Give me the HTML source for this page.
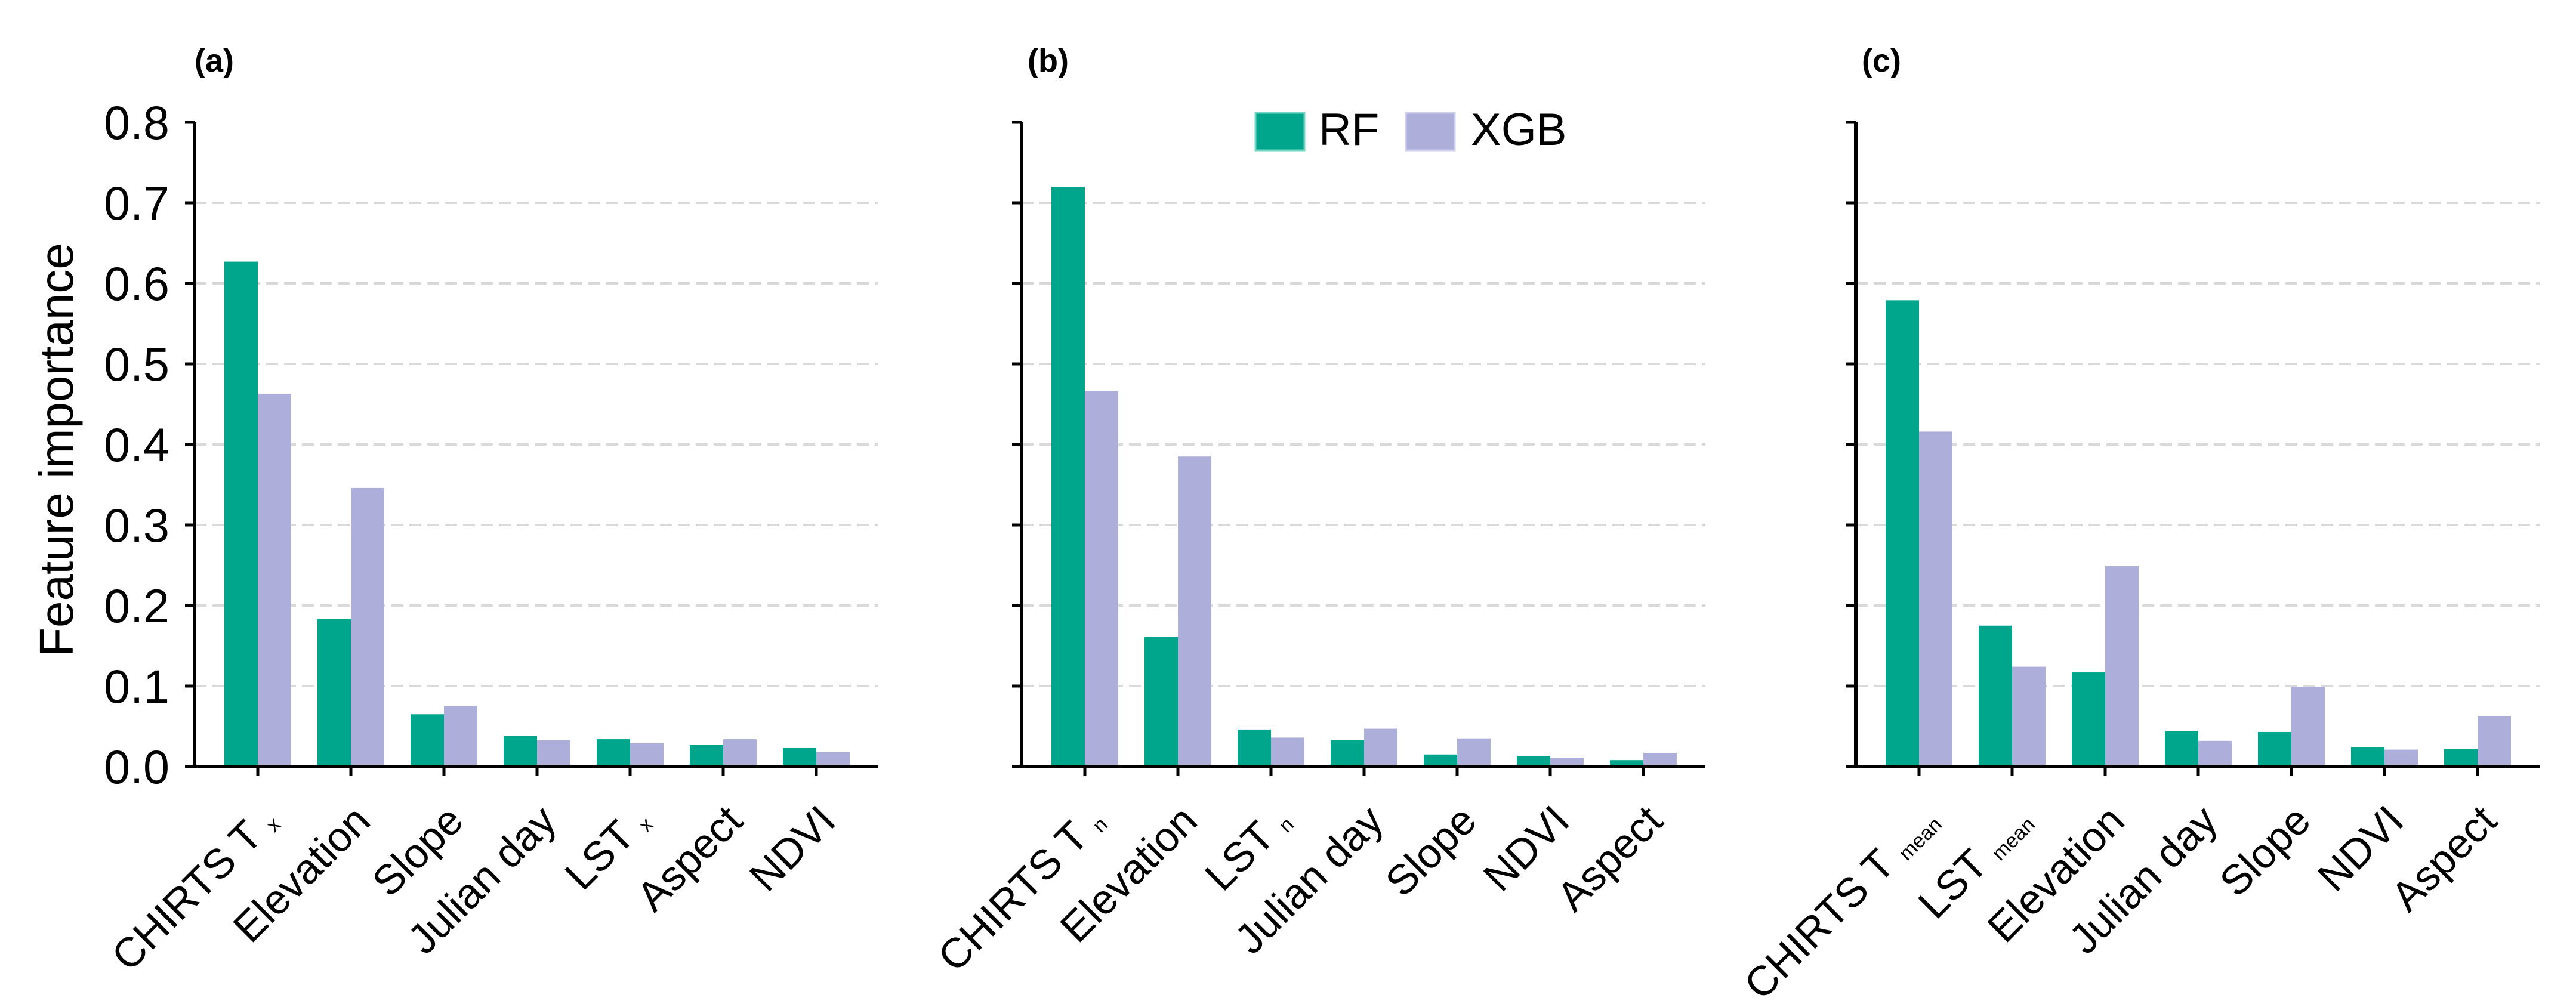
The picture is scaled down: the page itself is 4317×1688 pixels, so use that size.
<!DOCTYPE html>
<html><head><meta charset="utf-8"><style>
html,body{margin:0;padding:0;background:#fff;}
svg{display:block;font-family:"Liberation Sans",Arial,sans-serif;}
</style></head><body>
<svg id="chart" width="4317" height="1688" viewBox="0 0 4317 1688" xmlns="http://www.w3.org/2000/svg">
<text x="0" y="0" transform="translate(122,754) rotate(-90)" text-anchor="middle" font-size="80">Feature importance</text>
<g>
<rect x="2104" y="189" width="82" height="63" fill="#00a68c" stroke="#6fd6c4" stroke-width="3"/>
<text x="2210" y="243" font-size="76">RF</text>
<rect x="2356" y="189" width="82" height="63" fill="#adaed9" stroke="#d0d0ee" stroke-width="3"/>
<text x="2465" y="243" font-size="76">XGB</text>
</g>
</svg>
<script>
const panelLabels = ["(a)", "(b)", "(c)"];
const catsA = [["CHIRTS T","x"],["Elevation",""],["Slope",""],["Julian day",""],["LST","x"],["Aspect",""],["NDVI",""]];
const rfA = [0.627, 0.183, 0.065, 0.038, 0.034, 0.027, 0.023];
const xgbA = [0.463, 0.346, 0.075, 0.033, 0.029, 0.034, 0.018];
const catsB = [["CHIRTS T","n"],["Elevation",""],["LST","n"],["Julian day",""],["Slope",""],["NDVI",""],["Aspect",""]];
const rfB = [0.720, 0.161, 0.046, 0.033, 0.015, 0.013, 0.008];
const xgbB = [0.466, 0.385, 0.036, 0.047, 0.035, 0.011, 0.017];
const catsC = [["CHIRTS T","mean"],["LST","mean"],["Elevation",""],["Julian day",""],["Slope",""],["NDVI",""],["Aspect",""]];
const rfC = [0.579, 0.175, 0.117, 0.044, 0.043, 0.024, 0.022];
const xgbC = [0.416, 0.124, 0.249, 0.032, 0.099, 0.021, 0.063];
const yTicks = [0, 0.1, 0.2, 0.3, 0.4, 0.5, 0.6, 0.7, 0.8];
const yTickLabels = ["0.0","0.1","0.2","0.3","0.4","0.5","0.6","0.7","0.8"];

const NS = "http://www.w3.org/2000/svg";
const svg = document.getElementById("chart");
function mk(tag, attrs, parent){const e=document.createElementNS(NS,tag);for(const k in attrs)e.setAttribute(k,attrs[k]);(parent||svg).appendChild(e);return e;}
const Y0 = 1285, YTOP = 205, YMAX = 0.8;
function yScale(v){return Y0 - (v / YMAX) * (Y0 - YTOP);}
const STEP = 156, BARW = 56;

const panels = [
  {ax:326, cats:catsA, rf:rfA, xgb:xgbA, lab:panelLabels[0], showLabels:true},
  {ax:1712, cats:catsB, rf:rfB, xgb:xgbB, lab:panelLabels[1], showLabels:false},
  {ax:3110, cats:catsC, rf:rfC, xgb:xgbC, lab:panelLabels[2], showLabels:false}
];
function xScale(p, i){return p.ax + 106 + i * STEP;}

panels.forEach((p, pi) => {
  const g = mk("g", {});
  
  
  const right = p.ax + 1146;
  yTicks.forEach((t, ti) => {
    if (t === 0 || t === 0.8) return;
    const gl = mk("line", {x1:p.ax, x2:right, y1:yScale(t), y2:yScale(t), stroke:"#d9d9d9", "stroke-width":4, "stroke-dasharray":"20 10"}, g);
    
    
  });
  p.cats.forEach((c, i) => {
    const cx = xScale(p, i);
    const r1 = mk("rect", {x:cx - BARW, y:yScale(p.rf[i]), width:BARW, height:Y0 - yScale(p.rf[i]), fill:"#00a68c"}, g);
    
    
    const r2 = mk("rect", {x:cx, y:yScale(p.xgb[i]), width:BARW, height:Y0 - yScale(p.xgb[i]), fill:"#adaed9"}, g);
    
    
    const tk = mk("line", {x1:cx, x2:cx, y1:Y0, y2:Y0 + 16, stroke:"#000", "stroke-width":5}, g);
    
    
    const tx = cx + 36, ty = 1380;
    const t = mk("text", {x:0, y:0, transform:"translate(" + tx + "," + ty + ") rotate(-45)", "text-anchor":"end", "font-size":70}, g);
    
    
    t.appendChild(document.createTextNode(c[0] + (c[1] ? " " : "")));
    if (c[1]) {
      const s = mk("tspan", {"font-size":34, dy:"6"}, t);
      s.textContent = c[1];
    }
  });
  const ya = mk("line", {x1:p.ax, x2:p.ax, y1:YTOP, y2:Y0 + 2, stroke:"#000", "stroke-width":6}, g);
  
  
  const xa = mk("line", {x1:p.ax - 14, x2:right, y1:Y0, y2:Y0, stroke:"#000", "stroke-width":6}, g);
  
  
  yTicks.forEach((t, ti) => {
    const l = mk("line", {x1:p.ax - 16, x2:p.ax, y1:yScale(t), y2:yScale(t), stroke:"#000", "stroke-width":5}, g);
    
    
    if (p.showLabels) {
      const tl = mk("text", {x:p.ax - 42, y:yScale(t) + 28, "text-anchor":"end", "font-size":79}, g);
      
      
      tl.textContent = yTickLabels[ti];
    }
  });
  const pl = mk("text", {x:p.ax + (pi === 0 ? 0 : 10), y:120, "font-size":54, "font-weight":"bold"}, g);
  
  
  pl.textContent = p.lab;
});
</script>
</body></html>
